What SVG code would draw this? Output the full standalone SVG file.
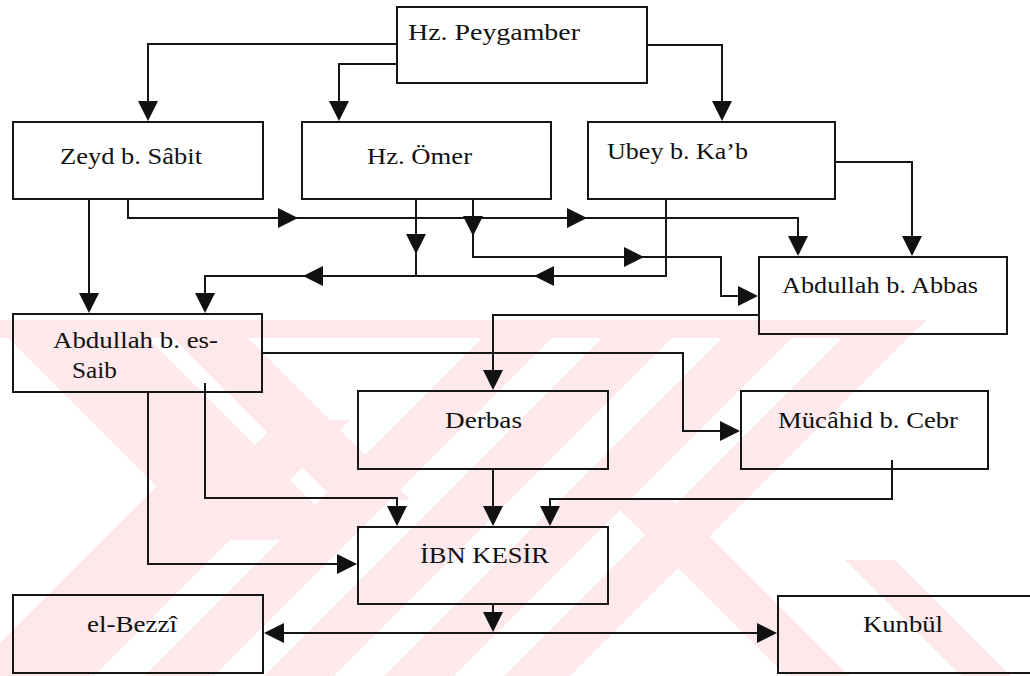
<svg xmlns="http://www.w3.org/2000/svg" xmlns:xlink="http://www.w3.org/1999/xlink" width="1030" height="676" viewBox="0 0 1030 676">
<style>
.box{fill:none;stroke:#161616;stroke-width:2}
.lbl{font-family:"Liberation Serif","Times New Roman",serif;font-size:23px;fill:#111}
.wire{fill:none;stroke:#161616;stroke-width:2}
.wm{fill:#fde8ec}
.ah{fill:#111}
</style>
<defs>
<path id="ah" class="ah" d="M0,0 L-20,-10 L-20,10 Z"/>
<clipPath id="wmclip"><rect x="0" y="320" width="1030" height="356"/></clipPath>
</defs>
<rect width="1030" height="676" fill="#ffffff"/>
<g id="watermark" clip-path="url(#wmclip)">
<polygon class="wm" points="0,320 926,320 908,338 0,338"/>
<polygon class="wm" points="860,320 926,320 570,676 504,676"/>
<polygon class="wm" points="740,320 810,320 454,676 384,676"/>
<polygon class="wm" points="620,320 690,320 334,676 264,676"/>
<polygon class="wm" points="500,320 570,320 214,676 144,676"/>
<polygon class="wm" points="280,420 350,420 94,676 24,676"/>
<polygon class="wm" points="163,480 237,480 41,676 -33,676"/>
<polygon class="wm" points="-10,320 130,320 350,540 210,540"/>
<polygon class="wm" points="155,320 230,320 410,500 335,500"/>
<polygon class="wm" points="610,500 673,500 849,676 786,676"/>
<polygon class="wm" points="845,560 895,560 1011,676 961,676"/>
</g>
<g id="connectors">
<path class="wire" d="M397,44 H148 V112"/>
<use xlink:href="#ah" href="#ah" transform="translate(148,121) rotate(90)"/>
<path class="wire" d="M397,64 H339 V112"/>
<use xlink:href="#ah" href="#ah" transform="translate(339,121) rotate(90)"/>
<path class="wire" d="M647,45 H722 V112"/>
<use xlink:href="#ah" href="#ah" transform="translate(722,121) rotate(90)"/>
<path class="wire" d="M89,199 V305"/>
<use xlink:href="#ah" href="#ah" transform="translate(89,313) rotate(90)"/>
<path class="wire" d="M128,199 V218 H798 V248"/>
<use xlink:href="#ah" href="#ah" transform="translate(298,218)"/>
<use xlink:href="#ah" href="#ah" transform="translate(587,218)"/>
<use xlink:href="#ah" href="#ah" transform="translate(798,256) rotate(90)"/>
<path class="wire" d="M416,199 V276 H205 V305"/>
<use xlink:href="#ah" href="#ah" transform="translate(416,254) rotate(90)"/>
<use xlink:href="#ah" href="#ah" transform="translate(303,276) rotate(180)"/>
<use xlink:href="#ah" href="#ah" transform="translate(205,313) rotate(90)"/>
<path class="wire" d="M666,199 V276 H416"/>
<use xlink:href="#ah" href="#ah" transform="translate(534,276) rotate(180)"/>
<path class="wire" d="M473,199 V257 H721 V296 H750"/>
<use xlink:href="#ah" href="#ah" transform="translate(473,236) rotate(90)"/>
<use xlink:href="#ah" href="#ah" transform="translate(644,257)"/>
<use xlink:href="#ah" href="#ah" transform="translate(758,296)"/>
<path class="wire" d="M835,162 H912 V248"/>
<use xlink:href="#ah" href="#ah" transform="translate(912,256) rotate(90)"/>
<path class="wire" d="M759,315 H493 V382"/>
<use xlink:href="#ah" href="#ah" transform="translate(493,390) rotate(90)"/>
<path class="wire" d="M262,353 H683 V431 H732"/>
<use xlink:href="#ah" href="#ah" transform="translate(740,431)"/>
<path class="wire" d="M148,392 V564 H349"/>
<use xlink:href="#ah" href="#ah" transform="translate(357,564)"/>
<path class="wire" d="M205,383 V498 H397 V518"/>
<use xlink:href="#ah" href="#ah" transform="translate(397,526) rotate(90)"/>
<path class="wire" d="M493,469 V518"/>
<use xlink:href="#ah" href="#ah" transform="translate(493,526) rotate(90)"/>
<path class="wire" d="M892,460 V499 H550 V518"/>
<use xlink:href="#ah" href="#ah" transform="translate(550,526) rotate(90)"/>
<path class="wire" d="M493,604 V626"/>
<use xlink:href="#ah" href="#ah" transform="translate(493,632) rotate(90)"/>
<path class="wire" d="M270,633 H770"/>
<use xlink:href="#ah" href="#ah" transform="translate(264,633) rotate(180)"/>
<use xlink:href="#ah" href="#ah" transform="translate(777,633)"/>
</g>
<g id="n-peygamber"><rect class="box" x="397" y="7" width="250" height="76"/><text class="lbl" x="408" y="40" textLength="172" lengthAdjust="spacingAndGlyphs">Hz. Peygamber</text></g>
<g id="n-zeyd"><rect class="box" x="13" y="122" width="250" height="77"/><text class="lbl" x="60" y="164" textLength="142" lengthAdjust="spacingAndGlyphs">Zeyd b. Sâbit</text></g>
<g id="n-omer"><rect class="box" x="302" y="122" width="249" height="77"/><text class="lbl" x="367" y="164" textLength="105" lengthAdjust="spacingAndGlyphs">Hz. Ömer</text></g>
<g id="n-ubey"><rect class="box" x="588" y="122" width="247" height="77"/><text class="lbl" x="607" y="159" textLength="141" lengthAdjust="spacingAndGlyphs">Ubey b. Ka’b</text></g>
<g id="n-abbas"><rect class="box" x="759" y="257" width="248" height="77"/><text class="lbl" x="782" y="293" textLength="196" lengthAdjust="spacingAndGlyphs">Abdullah b. Abbas</text></g>
<g id="n-saib"><rect class="box" x="13" y="314" width="249" height="78"/><text class="lbl" x="53" y="348" textLength="165" lengthAdjust="spacingAndGlyphs">Abdullah b. es-</text><text class="lbl" x="72" y="378" textLength="45" lengthAdjust="spacingAndGlyphs">Saib</text></g>
<g id="n-derbas"><rect class="box" x="358" y="391" width="250" height="78"/><text class="lbl" x="445" y="428" textLength="77" lengthAdjust="spacingAndGlyphs">Derbas</text></g>
<g id="n-mucahid"><rect class="box" x="741" y="391" width="247" height="78"/><text class="lbl" x="778" y="428" textLength="180" lengthAdjust="spacingAndGlyphs">Mücâhid b. Cebr</text></g>
<g id="n-ibnkesir"><rect class="box" x="358" y="527" width="250" height="77"/><text class="lbl" x="420" y="563" textLength="129" lengthAdjust="spacingAndGlyphs">İBN KESİR</text></g>
<g id="n-bezzi"><rect class="box" x="13" y="595" width="250" height="78"/><text class="lbl" x="87" y="632" textLength="90" lengthAdjust="spacingAndGlyphs">el-Bezzî</text></g>
<g id="n-kunbul"><rect class="box" x="778" y="596" width="262" height="77"/><text class="lbl" x="863" y="632" textLength="80" lengthAdjust="spacingAndGlyphs">Kunbül</text></g>
</svg>
